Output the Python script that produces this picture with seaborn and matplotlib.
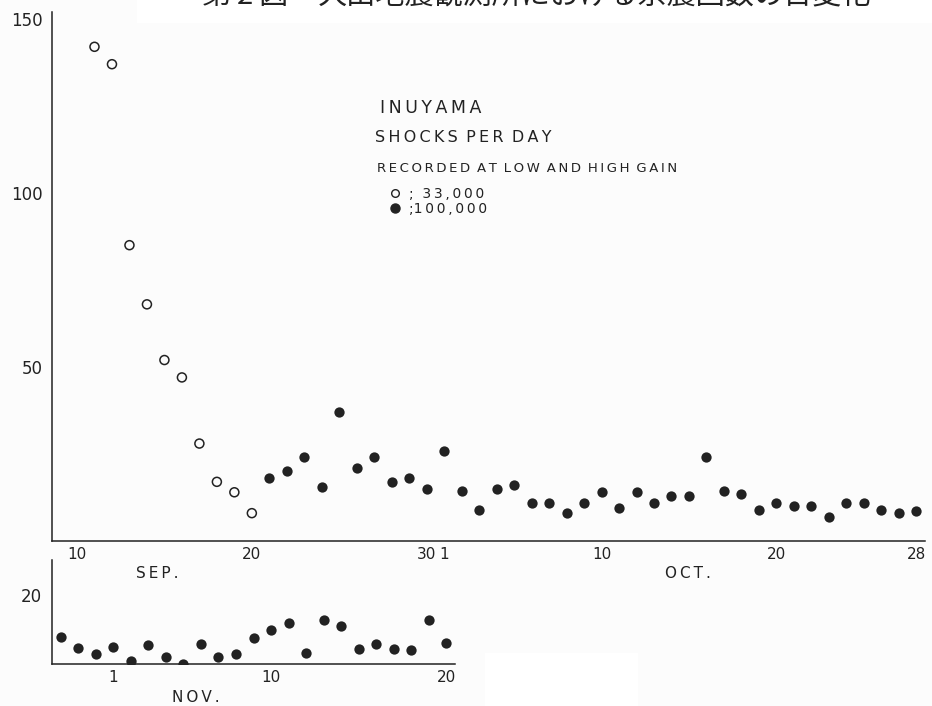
import pandas
import matplotlib.pyplot as pyplot
import seaborn
from matplotlib.patches import Rectangle
from matplotlib.lines import Line2D
from matplotlib.ticker import FixedLocator

# style
seaborn.set_style("white")
pyplot.rcParams["font.family"] = ["DejaVu Sans", "Noto Sans CJK JP"]

ink = "#222222"

# data: shocks per day at Inuyama
# low gain (33,000) - September
low_sep_day = [11, 12, 13, 14, 15, 16, 17, 18, 19, 20]
low_sep_count = [142, 137, 85, 68, 52, 47, 28, 17, 14, 8]

# high gain (100,000)
high_sep_day = [21, 22, 23, 24, 25, 26, 27, 28, 29, 30]
high_sep_count = [18, 20, 24, 15.5, 37, 21, 24, 17, 18, 15]
high_oct_day = list(range(1, 29))
high_oct_count = [26, 14.5, 9, 15, 16, 11, 11, 8, 11, 14,
                  9.5, 14, 11, 13, 13, 24, 14.5, 13.5, 9, 11,
                  10, 10, 7, 11, 11, 9, 8, 8.5]
late_oct_day = [29, 30, 31]
late_oct_count = [7.8, 4.7, 3.0]
high_nov_day = list(range(1, 21))
high_nov_count = [4.8, 1.0, 5.6, 2.1, 0, 5.9, 2.1, 2.9, 7.5, 9.8,
                  11.7, 3.1, 12.8, 10.9, 4.3, 5.9, 4.3, 4.1, 12.8, 6.1]

month_offset = {"SEP": 0, "OCT": 30, "NOV": 61}

top_tick_days = [10, 20, 30, 31, 40, 50, 58]
top_tick_labels = ["10", "20", "30", "1", "10", "20", "28"]
bot_tick_days = [62, 71, 81]
bot_tick_labels = ["1", "10", "20"]

low_df = pandas.DataFrame(
    {"day": [d + month_offset["SEP"] for d in low_sep_day], "count": low_sep_count}
)
high_df = pandas.DataFrame(
    {
        "day": [d + month_offset["SEP"] for d in high_sep_day]
        + [d + month_offset["OCT"] for d in high_oct_day],
        "count": high_sep_count + high_oct_count,
    }
)
nov_df = pandas.DataFrame(
    {
        "day": [d + month_offset["OCT"] for d in late_oct_day]
        + [d + month_offset["NOV"] for d in high_nov_day],
        "count": late_oct_count + high_nov_count,
    }
)


def spaced(s):
    return " \u2009".join("\u2009".join(w) for w in s.split(" "))


W, H = 932, 706
fig = pyplot.figure(figsize=(W / 100, H / 100), dpi=100)
fig.patch.set_facecolor("#fcfcfc")
fig.add_artist(Rectangle((137 / W, 1 - 23 / H), 1, 23 / H, transform=fig.transFigure,
                         facecolor="white", edgecolor="none", zorder=0))
fig.add_artist(Rectangle((485 / W, 0), 153 / W, 53 / H, transform=fig.transFigure,
                         facecolor="white", edgecolor="none", zorder=0))

ax = fig.add_axes([52 / W, 1 - 541 / H, 873 / W, 529 / H])
ax_nov = fig.add_axes([52 / W, 1 - 664 / H, 403 / W, 104 / H])

for a in (ax, ax_nov):
    a.set_facecolor("none")
    for side in ("top", "right"):
        a.spines[side].set_visible(False)
    for side in ("left", "bottom"):
        a.spines[side].set_color(ink)
        a.spines[side].set_linewidth(1.1)

# points
seaborn.scatterplot(data=low_df, x="day", y="count", ax=ax, marker="o", s=42,
                    facecolor="none", edgecolor=ink, linewidth=1.1, zorder=3)
seaborn.scatterplot(data=high_df, x="day", y="count", ax=ax, marker="o", s=55,
                    color=ink, edgecolor=ink, linewidth=0, zorder=3)
seaborn.scatterplot(data=nov_df, x="day", y="count", ax=ax_nov, marker="o", s=55,
                    color=ink, edgecolor=ink, linewidth=0, zorder=3)

# top axis
ax.set_xlim(8.57, 58.5)
ax.set_ylim(0, 152)
ax.set_xlabel("")
ax.set_ylabel("")
ax.set_yticks([50, 100, 150])
ax.set_yticklabels(["50", "100", "150"], fontsize=12, color=ink)
ax.tick_params(axis="y", direction="in", length=12, width=1, color=ink, pad=7)
ax.set_xticks(top_tick_days)
ax.set_xticklabels(top_tick_labels, fontsize=11, color=ink)
ax.tick_params(axis="x", which="major", length=0, pad=4)
ax.xaxis.set_minor_locator(FixedLocator([d + 0.5 for d in range(9, 59)]))
ax.tick_params(axis="x", which="minor", direction="in", length=5, width=1, color=ink)

# november axis
ax_nov.set_xlim(58.5, 81.5)
ax_nov.set_ylim(0, 30)
ax_nov.set_xlabel("")
ax_nov.set_ylabel("")
ax_nov.set_yticks([10, 20])
ax_nov.set_yticklabels(["", "20"], fontsize=12, color=ink)
ax_nov.tick_params(axis="y", direction="out", length=4, width=1, color=ink, pad=3)
ax_nov.set_xticks(bot_tick_days)
ax_nov.set_xticklabels(bot_tick_labels, fontsize=11, color=ink)
ax_nov.tick_params(axis="x", which="major", length=0, pad=4)
ax_nov.xaxis.set_minor_locator(FixedLocator([d + 0.5 for d in range(58, 82)]))
ax_nov.tick_params(axis="x", which="minor", direction="in", length=5, width=1, color=ink)

# month names
fig.text(157 / W, 1 - 573 / H, spaced("SEP."), fontsize=11, color=ink, ha="center", va="center")
fig.text(688 / W, 1 - 573 / H, spaced("OCT."), fontsize=11, color=ink, ha="center", va="center")
fig.text(196 / W, 1 - 697 / H, spaced("NOV."), fontsize=11, color=ink, ha="center", va="center")

# annotation block
fig.text(380 / W, 1 - 108 / H, spaced("INUYAMA"), fontsize=12.5, color=ink, va="center")
fig.text(375 / W, 1 - 137 / H, spaced("SHOCKS PER DAY"), fontsize=11.5, color=ink, va="center")
fig.text(377 / W, 1 - 169 / H, spaced("RECORDED AT LOW AND HIGH GAIN"), fontsize=9.5,
         color=ink, va="center")
handles = [
    Line2D([], [], linestyle="none", marker="o", markersize=5.5, markerfacecolor="none",
           markeredgecolor=ink, markeredgewidth=1.0),
    Line2D([], [], linestyle="none", marker="o", markersize=6.5, markerfacecolor=ink,
           markeredgecolor=ink),
]
fig.legend(handles, [";  " + spaced("33,000"), ";" + spaced("100,000")],
           loc="upper left", bbox_to_anchor=(388 / W, 1 - 187 / H), frameon=False,
           fontsize=10, handlelength=1.0, handletextpad=0.5, labelspacing=0.05,
           borderpad=0, borderaxespad=0, labelcolor=ink)

# japanese caption, cut off at the top edge of the scan as in the original
fig.text(202 / W, 1 + 4 / H, "第\u20092\u2009図", fontsize=21, color=ink, va="center",
         family=["Noto Sans CJK JP", "DejaVu Sans"], zorder=5)
fig.text(318 / W, 1 + 4 / H, "犬山地震観測所における余震回数の日変化", fontsize=21,
         color=ink, va="center", family=["Noto Sans CJK JP"], zorder=5)

pyplot.savefig("out.png", dpi=100, facecolor=fig.get_facecolor())
